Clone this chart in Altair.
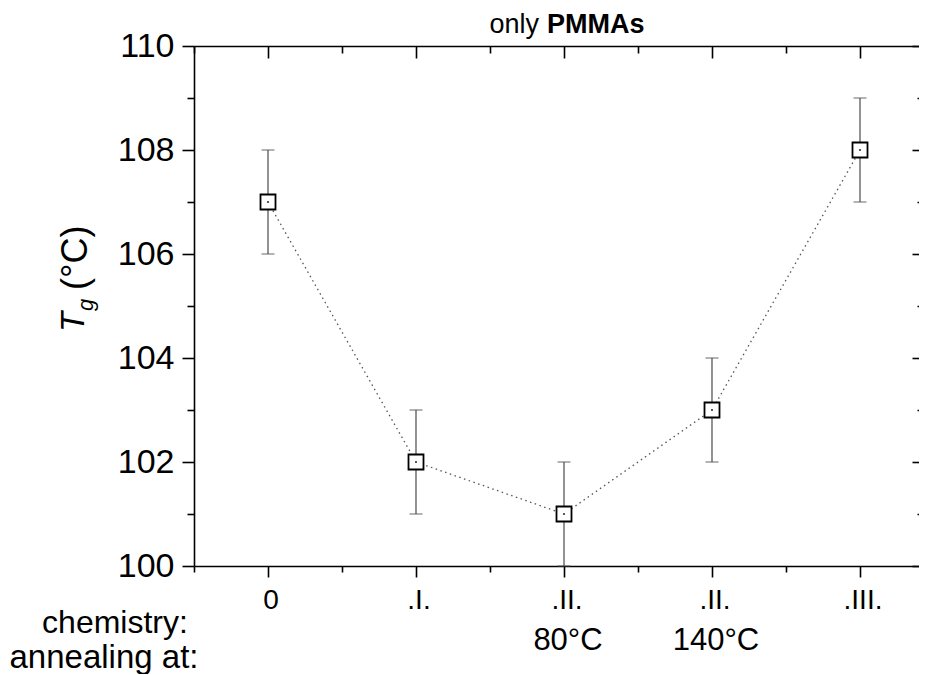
import altair as alt
import pandas as pd

# ---- data ----
positions = [1, 2, 3, 4, 5]
chem_labels = ["0", ".I.", ".II.", ".II.", ".III."]
anneal_labels = ["", "", "80°C", "140°C", ""]
tg_values = [107, 102, 101, 103, 108]
tg_errors = [1, 1, 1, 1, 1]
row_titles = ["chemistry:", "annealing at:"]
title_parts = ["only", "PMMAs"]
y_title_parts = ["T", "g", "(°C)"]

df = pd.DataFrame({
    "pos": positions,
    "chem": chem_labels,
    "anneal": anneal_labels,
    "tg": tg_values,
    "lo": [v - e for v, e in zip(tg_values, tg_errors)],
    "hi": [v + e for v, e in zip(tg_values, tg_errors)],
})

W, H = 725, 520
FONT = "Liberation Sans"
x_ticks = [0.5 + 0.5 * i for i in range(10)]
y_ticks = list(range(100, 111))

xscale = alt.Scale(domain=[0.5, 0.5 + W / 148], nice=False, zero=False)
yscale = alt.Scale(domain=[100, 110], nice=False, zero=False)

major_x = {"condition": {"test": "datum.value % 1 === 0", "value": 11}, "value": 6}
major_y = {"condition": {"test": "datum.value % 2 === 0", "value": 12}, "value": 7}
inner_x = {"condition": {"test": "datum.value % 1 === 0", "value": -12}, "value": -7}
inner_y = {"condition": {"test": "datum.value % 2 === 0", "value": -7}, "value": -2}

x_bottom = alt.X("pos:Q", scale=xscale, axis=alt.Axis(
    orient="bottom", values=x_ticks, labels=False, grid=False, title=None,
    domainColor="black", domainWidth=1.6, tickColor="black", tickWidth=1.6,
    tickSize=major_x))
y_left = alt.Y("tg:Q", scale=yscale, axis=alt.Axis(
    orient="left", values=y_ticks, grid=False, title=None,
    labelExpr="datum.value % 2 === 0 ? datum.label : ''",
    labelFont=FONT, labelFontSize=34, labelColor="black", labelPadding=8,
    domainColor="black", domainWidth=1.6, tickColor="black", tickWidth=1.6,
    tickSize=major_y))

base = alt.Chart(df)

line = base.mark_line(strokeDash=[1.5, 3.5], color="#555555", strokeWidth=1.3).encode(
    x=x_bottom, y=y_left)
err = base.mark_rule(color="#4a4a4a", strokeWidth=1.2).encode(
    x="pos:Q", y="lo:Q", y2="hi:Q")
cap_lo = base.mark_tick(orient="horizontal", size=13, thickness=1.2, color="#4a4a4a").encode(
    x="pos:Q", y="lo:Q")
cap_hi = base.mark_tick(orient="horizontal", size=13, thickness=1.2, color="#4a4a4a").encode(
    x="pos:Q", y="hi:Q")
pts = base.mark_point(shape="square", size=225, filled=True, fill="white",
                      stroke="black", strokeWidth=1.8, opacity=1).encode(
    x="pos:Q", y="tg:Q")
dots = base.mark_point(shape="square", size=3, filled=True, color="black", opacity=1).encode(
    x="pos:Q", y="tg:Q")

chem_text = base.mark_text(font=FONT, fontSize=28, baseline="alphabetic", align="center",
                           color="black", dx=3).encode(
    x="pos:Q", y=alt.value(563), text="chem:N")
anneal_text = base.mark_text(font=FONT, fontSize=31, baseline="alphabetic", align="center",
                             color="black", dx=4).encode(
    x="pos:Q", y=alt.value(604), text="anneal:N")

rt = pd.DataFrame({"t": row_titles})
row1 = alt.Chart(rt.iloc[[0]]).mark_text(font=FONT, fontSize=32, baseline="alphabetic",
                                          align="center", color="black").encode(
    x=alt.value(-79), y=alt.value(587), text="t:N")
row2 = alt.Chart(rt.iloc[[1]]).mark_text(font=FONT, fontSize=33, baseline="alphabetic",
                                          align="center", color="black").encode(
    x=alt.value(-90), y=alt.value(622), text="t:N")

tp = pd.DataFrame({"t": title_parts})
t1 = alt.Chart(tp.iloc[[0]]).mark_text(font=FONT, fontSize=27, baseline="alphabetic",
                                       align="right", color="black").encode(
    x=alt.value(345), y=alt.value(-13), text="t:N")
t2 = alt.Chart(tp.iloc[[1]]).mark_text(font=FONT, fontSize=27, fontWeight="bold",
                                       baseline="alphabetic", align="left", color="black").encode(
    x=alt.value(353), y=alt.value(-13), text="t:N")

yt = pd.DataFrame({"t": y_title_parts})
yT = alt.Chart(yt.iloc[[0]]).mark_text(font=FONT, fontSize=33, fontStyle="italic", angle=270,
                                       baseline="alphabetic", align="left", color="black").encode(
    x=alt.value(-110), y=alt.value(286), text="t:N")
yg = alt.Chart(yt.iloc[[1]]).mark_text(font=FONT, fontSize=22, fontStyle="italic", angle=270,
                                       baseline="alphabetic", align="left", color="black").encode(
    x=alt.value(-101), y=alt.value(265), text="t:N")
yC = alt.Chart(yt.iloc[[2]]).mark_text(font=FONT, fontSize=36, angle=270,
                                       baseline="alphabetic", align="left", color="black").encode(
    x=alt.value(-107), y=alt.value(244), text="t:N")

main = alt.layer(line, err, cap_lo, cap_hi, pts, dots, chem_text, anneal_text,
                 row1, row2, t1, t2, yT, yg, yC)

# mirrored frame axes with inward ticks (top and right)
top = base.mark_point(opacity=0).encode(
    x=alt.X("pos:Q", scale=xscale, axis=alt.Axis(
        orient="top", values=x_ticks, labels=False, grid=False, title=None,
        domainColor="black", domainWidth=1.6, tickColor="black", tickWidth=1.6,
        tickSize=inner_x)))
right = base.mark_point(opacity=0).encode(
    y=alt.Y("tg:Q", scale=yscale, axis=alt.Axis(
        orient="right", values=y_ticks, labels=False, grid=False, title=None,
        domain=False, tickColor="black", tickWidth=1.6, tickSize=inner_y)))

chart = alt.layer(main, top, right).resolve_scale(
    x="independent", y="independent"
).properties(
    width=W, height=H,
    padding={"left": 186, "top": 38, "right": 0, "bottom": 108},
    autosize=alt.AutoSizeParams(type="none"),
).configure_view(stroke=None)

chart.save("out.html", embed_options={"renderer": "svg", "actions": False})
